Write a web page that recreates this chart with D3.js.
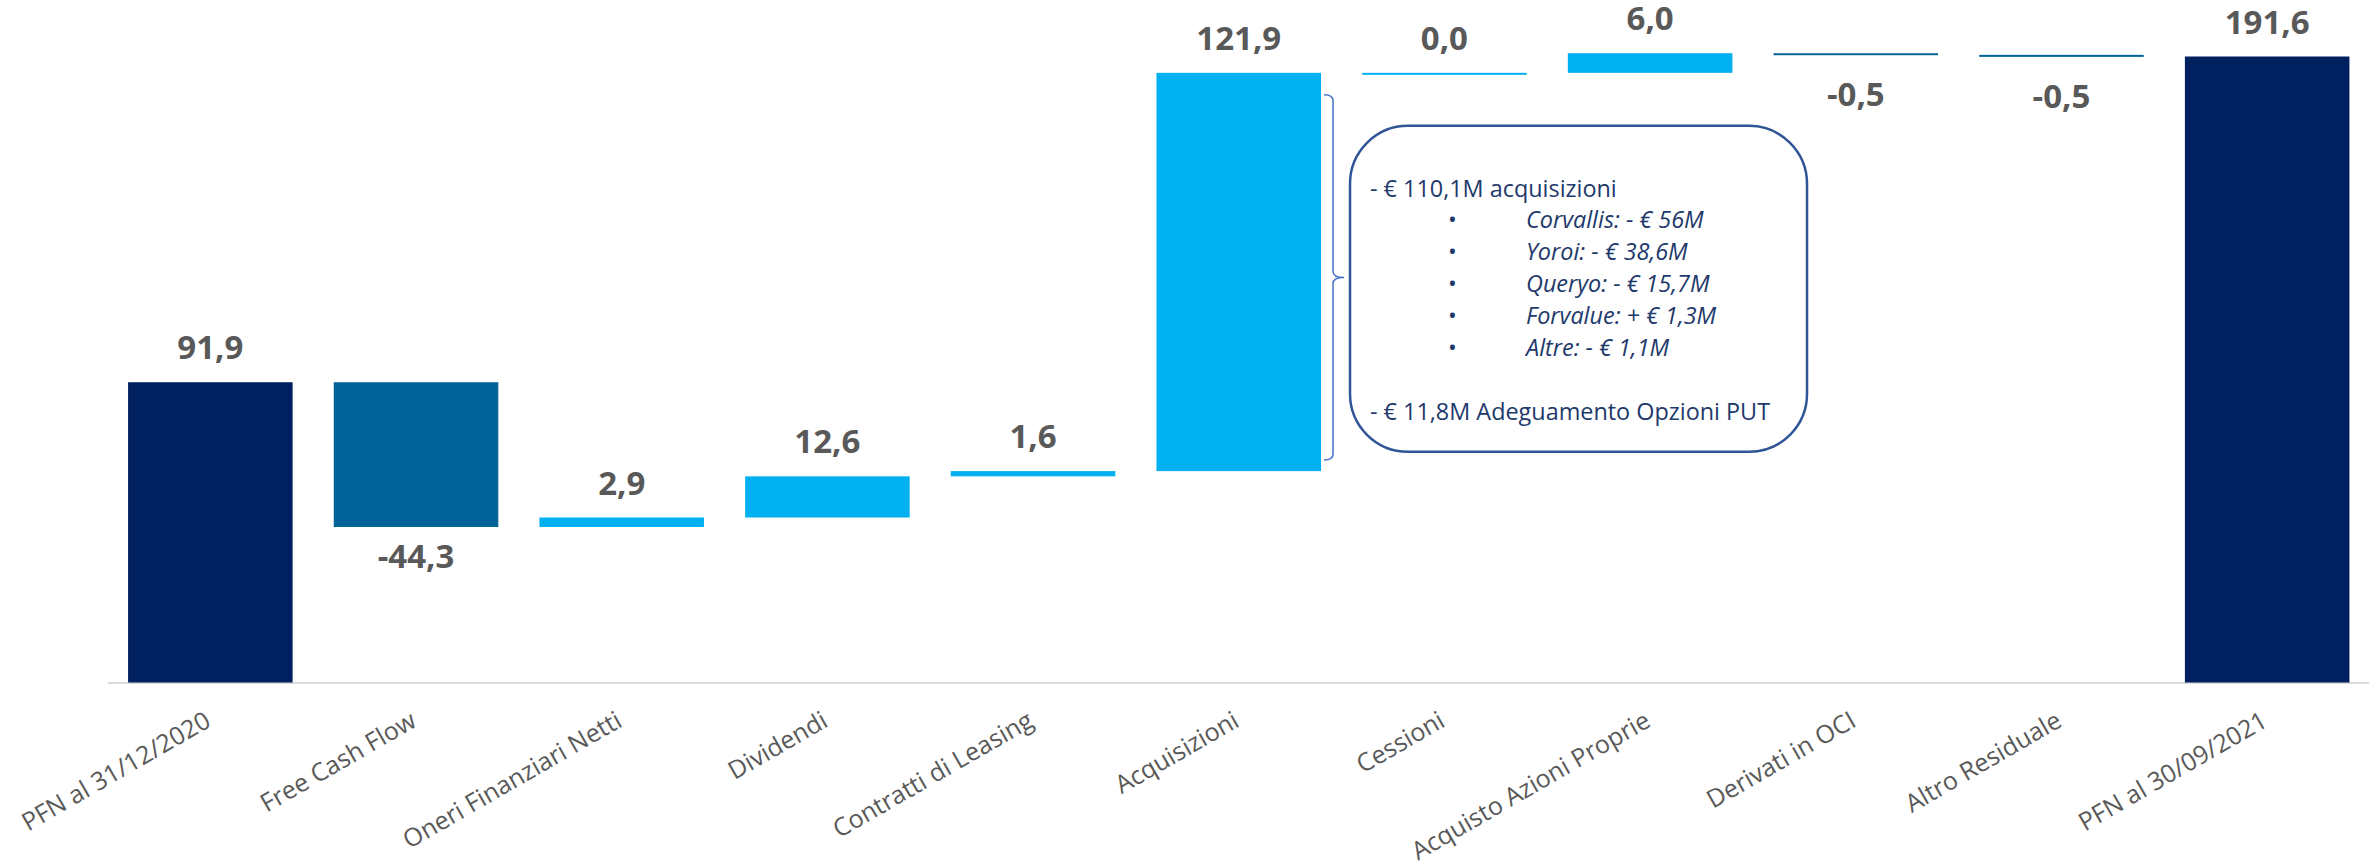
<!DOCTYPE html>
<html>
<head>
<meta charset="utf-8">
<script src="https://cdn.jsdelivr.net/npm/d3@7"></script>
<style>
  body { margin: 0; background: #ffffff; }
  .valueLabel { font-family: "Open Sans", sans-serif; font-weight: bold; font-size: 33px; fill: #595959; }
  .axis text { font-family: "Open Sans", sans-serif; font-size: 25px; fill: #595959; }
  .note { font-family: "Open Sans", sans-serif; font-size: 23.4px; fill: #22396b; }
</style>
</head>
<body>
<script>
// Categories on the x axis
var categories = [
  "PFN al 31/12/2020",
  "Free Cash Flow",
  "Oneri Finanziari Netti",
  "Dividendi",
  "Contratti di Leasing",
  "Acquisizioni",
  "Cessioni",
  "Acquisto Azioni Proprie",
  "Derivati in OCI",
  "Altro Residuale",
  "PFN al 30/09/2021"
];

// Bar values (totals for first/last, deltas in between)
var values = [91.9, -44.3, 2.9, 12.6, 1.6, 121.9, 0.0, 6.0, -0.5, -0.5, 191.6];
var kinds = ["total", "delta", "delta", "delta", "delta", "delta", "delta", "delta", "delta", "delta", "total"];

// Annotation lines next to Acquisizioni
var noteHead = "- € 110,1M acquisizioni";
var noteItems = [
  "Corvallis: - € 56M",
  "Yoroi: - € 38,6M",
  "Queryo: - € 15,7M",
  "Forvalue: + € 1,3M",
  "Altre: - € 1,1M"
];
var noteFoot = "- € 11,8M Adeguamento Opzioni PUT";

window.onload = function(){
  var w = 2369, h = 865;

  var svg = d3.select("body")
    .append("svg")
    .attr("width", w)
    .attr("height", h);

  // Build running start/end for the waterfall
  var running = 0;
  var bars = values.map(function(v, i){
    var start, end;
    if (kinds[i] === "total") {
      start = 0; end = v; running = v;
    } else {
      start = running; end = running + v; running = end;
    }
    return { cat: categories[i], value: v, kind: kinds[i], start: start, end: end };
  });

  var x = d3.scaleBand()
    .domain(categories)
    .range([107.5, 2370])
    .paddingInner(0.2)
    .paddingOuter(0.1);

  var y = d3.scaleLinear()
    .domain([0, 191.6])
    .range([682.5, 56.5]);

  function barColor(d){
    if (d.kind === "total") return "#002060";
    return d.value < 0 ? "#006398" : "#00b0f0";
  }

  // Axis with rotated labels
  var xAxis = d3.axisBottom(x).tickSize(0).tickPadding(0);
  var axis = svg.append("g")
    .attr("class", "axis")
    .attr("transform", "translate(0," + y(0) + ")")
    .call(xAxis);

  axis.select(".domain")
    .attr("stroke", "#d9d9d9")
    .attr("stroke-width", 2);

  axis.selectAll(".tick text")
    .attr("x", 2)
    .attr("y", 43)
    .attr("dy", 0)
    .attr("text-anchor", "end")
    .attr("transform", "rotate(-30, 2, 43)");

  // Waterfall bars
  svg.selectAll(".bar")
    .data(bars)
    .enter()
    .append("rect")
    .attr("class", "bar")
    .attr("x", function(d){ return x(d.cat); })
    .attr("width", x.bandwidth())
    .attr("y", function(d){ return Math.min(y(d.start), y(d.end)); })
    .attr("height", function(d){ return Math.max(2, Math.abs(y(d.start) - y(d.end))); })
    .style("fill", barColor);

  // Value labels
  svg.selectAll(".valueLabel")
    .data(bars)
    .enter()
    .append("text")
    .attr("class", "valueLabel")
    .attr("text-anchor", "middle")
    .attr("x", function(d){ return x(d.cat) + x.bandwidth() / 2; })
    .attr("y", function(d){
      var top = Math.min(y(d.start), y(d.end));
      var bottom = Math.max(y(d.start), y(d.end));
      // thin negative bars get their label a bit lower
      var extra = (bottom - top) < 5 ? 10 : 0;
      return d.value < 0 ? bottom + 41 + extra : top - 23;
    })
    .text(function(d){ return d.value.toFixed(1).replace(".", ","); });

  // Bracket and note box next to Acquisizioni
  var acq = bars[5];
  var bx = x(acq.cat) + x.bandwidth() + 3;
  var bTop = y(acq.end) + 22;
  var bBot = y(acq.start) - 11;
  var bMid = (bTop + bBot) / 2;
  var bracket = d3.path();
  bracket.moveTo(bx, bTop);
  bracket.quadraticCurveTo(bx + 9, bTop, bx + 9, bTop + 6);
  bracket.lineTo(bx + 9, bMid - 6);
  bracket.quadraticCurveTo(bx + 9, bMid, bx + 20, bMid);
  bracket.quadraticCurveTo(bx + 9, bMid, bx + 9, bMid + 6);
  bracket.lineTo(bx + 9, bBot - 6);
  bracket.quadraticCurveTo(bx + 9, bBot, bx, bBot);
  svg.append("path")
    .attr("d", bracket.toString())
    .attr("fill", "none")
    .attr("stroke", "#4472c4")
    .attr("stroke-width", 1.5);

  var boxX = bx + 26, boxY = bTop + 31;
  svg.append("rect")
    .attr("x", boxX)
    .attr("y", boxY)
    .attr("width", 457)
    .attr("height", 326)
    .attr("rx", 58)
    .attr("ry", 58)
    .attr("fill", "#ffffff")
    .attr("stroke", "#2f5597")
    .attr("stroke-width", 2.5);

  svg.append("text")
    .attr("class", "note")
    .attr("x", boxX + 20)
    .attr("y", boxY + 71)
    .text(noteHead);

  var items = svg.selectAll(".noteItem")
    .data(noteItems)
    .enter()
    .append("g")
    .attr("class", "noteItem")
    .attr("transform", function(d, i){ return "translate(" + (boxX + 98) + "," + (boxY + 102 + i * 32) + ")"; });

  items.append("text")
    .attr("class", "note")
    .text("•");

  items.append("text")
    .attr("class", "note")
    .attr("x", 78)
    .style("font-style", "italic")
    .text(function(d){ return d; });

  svg.append("text")
    .attr("class", "note")
    .attr("x", boxX + 20)
    .attr("y", boxY + 294)
    .text(noteFoot);
};
</script>
</body>
</html>
